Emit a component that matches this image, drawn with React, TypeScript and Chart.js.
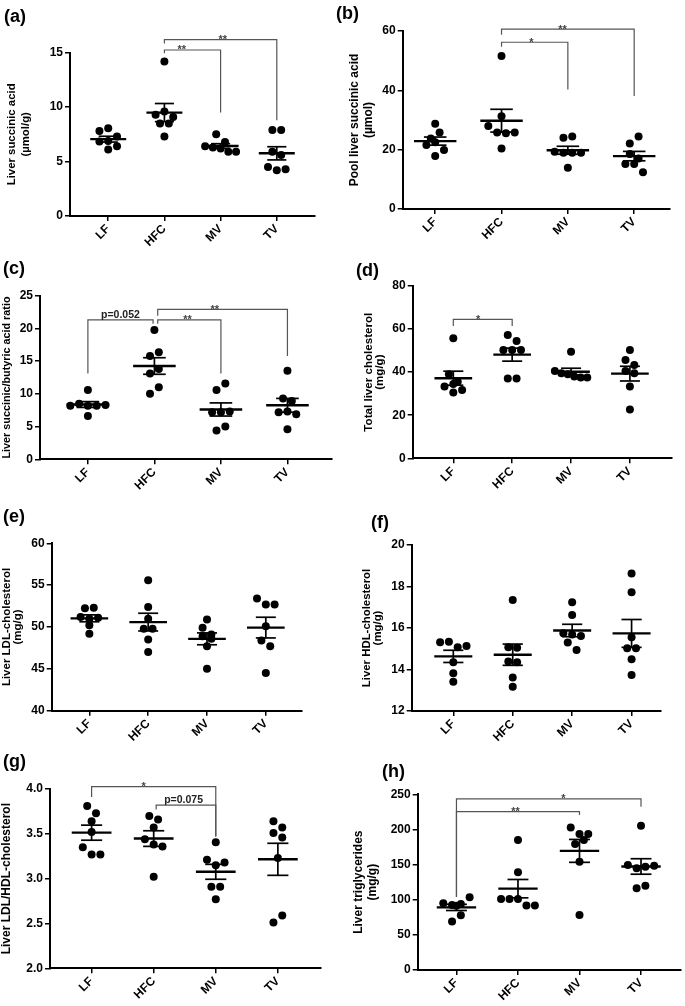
import React, { useEffect, useRef } from 'react';
import { Chart, registerables } from 'chart.js';

Chart.register(...registerables);

const FONT = "'Liberation Sans', Arial, Helvetica, sans-serif";
const GROUPS = ['LF', 'HFC', 'MV', 'TV'];

// (a) Liver succinic acid (µmol/g)
const succinicAcid = [
  [7.8, 8.05, 7.3, 6.85, 6.9, 6.1, 6.4],
  [14.2, 9.3, 9.6, 8.5, 8.5, 7.3, 9.1],
  [7.5, 6.8, 6.4, 6.3, 6.2, 5.9, 5.9],
  [7.9, 7.9, 5.9, 5.6, 4.5, 4.2, 4.3],
];
// (b) Pool liver succinic acid (µmol)
const poolSuccinic = [
  [23.8, 28.7, 25.8, 21.6, 22.5, 19.9, 17.9],
  [51.6, 31.3, 28.0, 25.8, 25.5, 25.8, 20.4],
  [24.0, 24.4, 19.3, 19.0, 19.0, 19.0, 13.9],
  [22.1, 24.4, 18.5, 15.2, 15.2, 12.4, 17.0],
];
// (c) Liver succinic/butyric acid ratio
const succButRatio = [
  [10.6, 8.2, 8.5, 8.2, 8.2, 6.6, 8.3],
  [19.75, 15.8, 16.35, 13.1, 13.8, 10.0, 11.0],
  [10.6, 11.6, 7.2, 7.2, 7.3, 4.4, 5.0],
  [13.55, 9.3, 8.9, 7.2, 7.3, 6.9, 4.6],
];
// (d) Total liver cholesterol (mg/g)
const totalChol = [
  [55.7, 39.0, 33.3, 35.6, 34.5, 30.5, 31.7],
  [57.3, 54.5, 50.3, 50.3, 50.3, 37.1, 37.1],
  [49.5, 40.5, 39.5, 39.0, 38.0, 37.5, 37.5],
  [50.3, 45.6, 43.3, 40.5, 39.5, 33.3, 22.7],
];
// (e) Liver LDL-cholesterol (mg/g)
const ldlChol = [
  [52.25, 52.3, 51.2, 51.0, 51.1, 50.2, 49.2],
  [55.6, 52.4, 51.0, 49.8, 49.8, 48.5, 47.0],
  [50.9, 49.9, 48.9, 49.1, 48.6, 47.7, 45.0],
  [53.4, 52.7, 52.7, 50.1, 48.4, 47.7, 44.5],
];
// (f) Liver HDL-cholesterol (mg/g)
const hdlChol = [
  [15.31, 15.34, 15.07, 15.13, 14.35, 13.82, 13.41],
  [17.35, 15.07, 15.05, 14.38, 14.35, 13.62, 13.17],
  [17.24, 16.63, 15.75, 15.69, 15.61, 15.3, 14.94],
  [18.63, 17.72, 15.55, 15.02, 15.02, 14.5, 13.73],
];
// (g) Liver LDL/HDL-cholesterol
const ldlHdlRatio = [
  [3.81, 3.73, 3.64, 3.52, 3.35, 3.27, 3.27],
  [3.7, 3.66, 3.57, 3.44, 3.38, 3.36, 3.02],
  [3.405, 3.21, 3.15, 3.18, 2.91, 2.91, 2.77],
  [3.64, 3.57, 3.51, 3.46, 3.23, 2.51, 2.59],
];
// (h) Liver triglycerides (mg/g)
const triglycerides = [
  [94.9, 91.5, 92.5, 94.0, 103.4, 69.0, 78.0],
  [185, 139, 101, 101, 101, 91.6, 91.6],
  [202.6, 193.5, 193.5, 179.3, 185, 154.2, 78.3],
  [205.4, 149.4, 144.7, 147, 148.5, 116.2, 120],
];

// significance brackets: groups a->b, top value, drop ends, label, label position along bracket
const bracketsA = [
  { a: 1, b: 2, top: 15.25, dA: 14.95, dB: 9.5, label: '**', at: 0.31 },
  { a: 1, b: 3, top: 16.2, dA: 15.85, dB: 8.8, label: '**', at: 0.52 },
];
const bracketsB = [
  { a: 1, b: 2, top: 56.2, dA: 54.7, dB: 40.3, label: '*', at: 0.45 },
  { a: 1, b: 3, top: 60.6, dA: 58.7, dB: 38.1, label: '**', at: 0.46 },
];
const bracketsC = [
  { a: 0, b: 1, bOff: -0.02, top: 21.3, dA: 13.1, dB: 20.7, label: 'p=0.052', at: 0.5 },
  { a: 1, aOff: 0.05, b: 2, top: 21.3, dA: 20.7, dB: 13.1, label: '**', at: 0.47 },
  { a: 1, aOff: 0.05, b: 3, top: 22.9, dA: 21.95, dB: 15.8, label: '**', at: 0.44 },
];
const bracketsD = [{ a: 0, b: 1, top: 64.5, dA: 61.4, dB: 61.4, label: '*', at: 0.42 }];
const bracketsG = [
  { a: 0, b: 2, top: 4.026, dA: 3.91, dB: 3.47, label: '*', at: 0.42 },
  { a: 1, aOff: 0.04, b: 2, top: 3.82, dA: 3.77, dB: 3.47, label: 'p=0.075', at: 0.46 },
];
const bracketsH = [
  { a: 0, b: 2, top: 225.3, dA: 104, dB: 220.6, label: '**', at: 0.48 },
  { a: 0, b: 3, top: 243.4, dA: 104, dB: 232.4, label: '*', at: 0.58 },
];

const PANELS = [
  { letter: '(a)', data: succinicAcid, yMin: 0, yMax: 15, step: 5, dec: 0, title: ['Liver succinic acid', '(µmol/g)'], tSize: 11.4, tLH: 14.3, titleX: 11.7, brackets: bracketsA, cell: [0, 0, 340, 250], area: [70, 52.7, 315, 216], xr: [-0.68, 3.68], letterXY: [4, 17.5] },
  { letter: '(b)', data: poolSuccinic, yMin: 0, yMax: 60, step: 20, dec: 0, title: ['Pool liver succinic acid', '(µmol)'], tSize: 12, tLH: 13.3, titleX: 355, brackets: bracketsB, cell: [330, 0, 355, 250], area: [402.7, 31, 670, 209], xr: [-0.49, 3.54], letterXY: [336, 14] },
  { letter: '(c)', data: succButRatio, yMin: 0, yMax: 25, step: 5, dec: 0, title: 'Liver succinic/butyric acid ratio', tSize: 10.8, tLH: 11, titleX: 7.3, brackets: bracketsC, cell: [0, 250, 340, 250], area: [40, 295.7, 332, 459.3], xr: [-0.72, 3.67], letterXY: [3, 269] },
  { letter: '(d)', data: totalChol, yMin: 0, yMax: 80, step: 20, dec: 0, title: ['Total liver cholesterol', '(mg/g)'], tSize: 11.6, tLH: 11, titleX: 368.3, brackets: bracketsD, cell: [330, 250, 355, 250], area: [412.7, 286, 671.7, 458.3], xr: [-0.69, 3.71], letterXY: [356, 271] },
  { letter: '(e)', data: ldlChol, yMin: 40, yMax: 60, step: 5, dec: 0, title: ['Liver LDL-cholesterol', '(mg/g)'], tSize: 11.5, tLH: 11, titleX: 7.3, brackets: [], cell: [0, 500, 340, 250], area: [51.7, 543.3, 301.7, 710.7], xr: [-0.64, 3.61], letterXY: [3, 517.5] },
  { letter: '(f)', data: hdlChol, yMin: 12, yMax: 20, step: 2, dec: 0, title: ['Liver HDL-cholesterol', '(mg/g)'], tSize: 11.4, tLH: 11, titleX: 367.3, brackets: [], cell: [330, 500, 355, 250], area: [411.7, 545, 660.7, 711], xr: [-0.7, 3.49], letterXY: [371, 523] },
  { letter: '(g)', data: ldlHdlRatio, yMin: 2, yMax: 4, step: 0.5, dec: 1, title: 'Liver LDL/HDL-cholesterol', tSize: 12, tLH: 12, titleX: 6.7, brackets: bracketsG, cell: [0, 750, 340, 256], area: [50, 789, 320.7, 968.3], xr: [-0.67, 3.69], letterXY: [3, 762.5] },
  { letter: '(h)', data: triglycerides, yMin: 0, yMax: 250, step: 50, dec: 0, title: ['Liver triglycerides', '(mg/g)'], tSize: 12, tLH: 14, titleX: 358.3, brackets: bracketsH, cell: [330, 750, 355, 256], area: [417.7, 794.3, 681.7, 970], xr: [-0.63, 3.65], letterXY: [382, 772] },
];

const R = 4;

function meanOf(v: number[]) {
  return v.reduce((s, x) => s + x, 0) / v.length;
}
function semOf(v: number[]) {
  const m = meanOf(v);
  const ss = v.reduce((s, x) => s + (x - m) * (x - m), 0);
  return Math.sqrt(ss / (v.length - 1)) / Math.sqrt(v.length);
}

// Prism-like row layout: points close in value share a row and are spread symmetrically
function swarm(vals: number[], pxPerUnit: number, spacing: number) {
  const d = 2 * R + 0.8;
  const maxSpan = 0.55 * spacing;
  const order = vals.map((_, i) => i).sort((a, b) => vals[b] - vals[a]);
  const offs = new Array(vals.length).fill(0);
  let row: number[] = [];
  const flush = () => {
    const n = row.length;
    const step = n > 1 ? Math.min(d, maxSpan / (n - 1)) : 0;
    row.sort((a, b) => a - b).forEach((k, j) => {
      offs[k] = ((j - (n - 1) / 2) * step) / spacing;
    });
    row = [];
  };
  for (const k of order) {
    if (row.length && (vals[row[0]] - vals[k]) * pxPerUnit > d * 0.95) flush();
    row.push(k);
  }
  flush();
  return offs;
}

function Panel({ p }: { p: any }) {
  const ref = useRef<HTMLCanvasElement | null>(null);
  useEffect(() => {
    const [cx0, cy0, cw, chh] = p.cell;
    const aL = p.area[0] - cx0;
    const aT = p.area[1] - cy0;
    const aR = p.area[2] - cx0;
    const aB = p.area[3] - cy0;
    const padLeft = Math.max(0, p.titleX - cx0 - p.tLH / 2);
    const pxPerUnit = (aB - aT) / (p.yMax - p.yMin);
    const spacing = (aR - aL) / (p.xr[1] - p.xr[0]);
    const pts: { x: number; y: number }[] = [];
    p.data.forEach((vals: number[], gi: number) => {
      const offs = swarm(vals, pxPerUnit, spacing);
      vals.forEach((v, k) => pts.push({ x: gi + offs[k], y: v }));
    });

    const overlay = {
      id: 'overlay',
      afterDatasetsDraw(chart: any) {
        const ctx = chart.ctx;
        const x = chart.scales.x;
        const y = chart.scales.y;
        const sp = x.getPixelForValue(1) - x.getPixelForValue(0);
        const seg = (x1: number, y1: number, x2: number, y2: number) => {
          ctx.beginPath();
          ctx.moveTo(x1, y1);
          ctx.lineTo(x2, y2);
          ctx.stroke();
        };
        ctx.save();
        ctx.strokeStyle = '#000';
        p.data.forEach((vals: number[], gi: number) => {
          const m = meanOf(vals);
          const s = semOf(vals);
          const cx = x.getPixelForValue(gi);
          const ym = y.getPixelForValue(m);
          const yt = y.getPixelForValue(m + s);
          const yb = y.getPixelForValue(m - s);
          ctx.lineWidth = 2.4;
          seg(cx - 0.32 * sp, ym, cx + 0.32 * sp, ym);
          ctx.lineWidth = 1.7;
          seg(cx - 0.17 * sp, yt, cx + 0.17 * sp, yt);
          seg(cx - 0.17 * sp, yb, cx + 0.17 * sp, yb);
          seg(cx, yt, cx, yb);
        });
        ctx.strokeStyle = '#555';
        ctx.lineWidth = 1.2;
        p.brackets.forEach((b: any) => {
          const xa = x.getPixelForValue(b.a + (b.aOff || 0));
          const xb = x.getPixelForValue(b.b + (b.bOff || 0));
          const yt = y.getPixelForValue(b.top);
          ctx.beginPath();
          ctx.moveTo(xa, y.getPixelForValue(b.dA));
          ctx.lineTo(xa, yt);
          ctx.lineTo(xb, yt);
          ctx.lineTo(xb, y.getPixelForValue(b.dB));
          ctx.stroke();
          const star = b.label.startsWith('*');
          ctx.font = star ? `bold 11px ${FONT}` : `bold 10.5px ${FONT}`;
          ctx.fillStyle = star ? '#444' : '#222';
          ctx.textAlign = 'center';
          ctx.textBaseline = 'alphabetic';
          ctx.fillText(b.label, xa + b.at * (xb - xa), yt + (star ? 3.5 : -2));
        });
        ctx.font = `bold 18px ${FONT}`;
        ctx.fillStyle = '#000';
        ctx.textAlign = 'left';
        ctx.textBaseline = 'middle';
        ctx.fillText(p.letter, p.letterXY[0] - cx0, p.letterXY[1] - cy0);
        ctx.restore();
      },
    };

    const chart = new Chart(ref.current as HTMLCanvasElement, {
      type: 'scatter',
      data: {
        datasets: [
          {
            data: pts,
            pointRadius: R,
            pointHoverRadius: R,
            pointBackgroundColor: '#000',
            pointBorderWidth: 0,
            showLine: false,
          },
        ],
      },
      options: {
        responsive: false,
        animation: false,
        events: [],
        layout: { padding: { left: padLeft, top: aT, right: cw - aR, bottom: 0 } },
        plugins: { legend: { display: false }, tooltip: { enabled: false } },
        scales: {
          x: {
            type: 'linear',
            min: p.xr[0],
            max: p.xr[1],
            afterBuildTicks: (scale: any) => {
              scale.ticks = GROUPS.map((_, i) => ({ value: i }));
            },
            afterFit: (scale: any) => {
              scale.height = chh - aB;
            },
            ticks: {
              callback: (v: any) => GROUPS[v],
              font: { family: FONT, size: 12, weight: 'bold' },
              color: '#000',
              minRotation: 45,
              maxRotation: 45,
              autoSkip: false,
              padding: 1,
            },
            grid: { drawOnChartArea: false, drawTicks: true, tickLength: 5, lineWidth: 1.5, color: '#000' },
            border: { display: true, color: '#000', width: 2 },
          },
          y: {
            type: 'linear',
            min: p.yMin,
            max: p.yMax,
            afterFit: (scale: any) => {
              scale.width = aL - padLeft;
            },
            ticks: {
              stepSize: p.step,
              font: { family: FONT, size: 12, weight: 'bold' },
              color: '#000',
              padding: 2,
              callback: (v: any) => Number(v).toFixed(p.dec),
            },
            grid: { drawOnChartArea: false, drawTicks: true, tickLength: 5, lineWidth: 1.5, color: '#000' },
            border: { display: true, color: '#000', width: 2 },
            title: {
              display: true,
              text: p.title,
              color: '#000',
              padding: 0,
              font: { family: FONT, size: p.tSize, weight: 'bold', lineHeight: p.tLH / p.tSize },
            },
          },
        },
      },
      plugins: [overlay],
    } as any);
    return () => chart.destroy();
  }, []);
  return (
    <canvas
      ref={ref}
      width={p.cell[2]}
      height={p.cell[3]}
      style={{ position: 'absolute', left: p.cell[0], top: p.cell[1], width: p.cell[2], height: p.cell[3] }}
    />
  );
}

export default function App() {
  return (
    <div style={{ position: 'absolute', left: 0, top: 0, width: 685, height: 1006, background: '#fff', overflow: 'hidden' }}>
      {PANELS.map((p, i) => (
        <Panel key={i} p={p} />
      ))}
    </div>
  );
}
